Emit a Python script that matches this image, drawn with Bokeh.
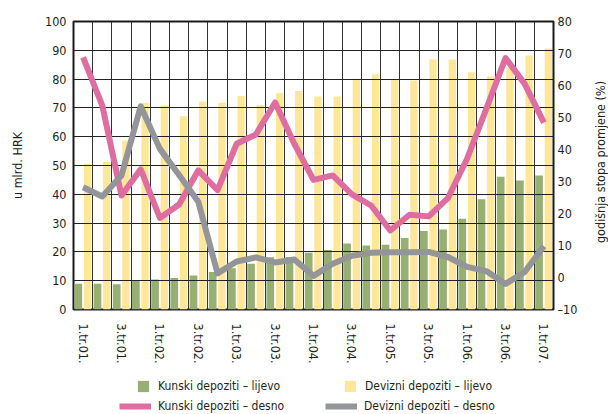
import math
import numpy as np
from bokeh.plotting import figure
from bokeh.layouts import column, row
from bokeh.models import Range1d, LinearAxis, FixedTicker, Legend, LegendItem, Label
from bokeh.embed import file_html
from bokeh.resources import INLINE

quarters = ["1.tr.01.", "2.tr.01.", "3.tr.01.", "4.tr.01.",
            "1.tr.02.", "2.tr.02.", "3.tr.02.", "4.tr.02.",
            "1.tr.03.", "2.tr.03.", "3.tr.03.", "4.tr.03.",
            "1.tr.04.", "2.tr.04.", "3.tr.04.", "4.tr.04.",
            "1.tr.05.", "2.tr.05.", "3.tr.05.", "4.tr.05.",
            "1.tr.06.", "2.tr.06.", "3.tr.06.", "4.tr.06.",
            "1.tr.07."]
# left axis, bn HRK
kunski_dep = [8.9, 8.9, 8.8, 10.1, 10.4, 10.9, 11.8, 13.0, 14.3, 15.9,
              18.1, 18.2, 19.7, 20.7, 22.9, 22.2, 22.5, 24.8, 27.3, 27.8,
              31.5, 38.3, 46.1, 44.8, 46.5]
devizni_dep = [50.6, 51.2, 58.7, 71.8, 70.8, 67.1, 72.2, 71.8, 74.1, 71.0,
               75.2, 75.9, 74.0, 74.0, 80.1, 81.6, 79.9, 79.5, 86.8, 86.8,
               82.4, 80.9, 84.0, 88.2, 90.6]
# right axis, annual rate of change (%)
kunski_rate = [68.8, 53.7, 25.6, 33.8, 18.6, 22.8, 33.5, 27.3, 41.8, 44.7,
               54.7, 41.8, 30.5, 31.9, 26.0, 22.5, 14.7, 19.6, 19.1, 24.8,
               37.1, 52.7, 68.6, 60.5, 48.4]
devizni_rate = [28.2, 25.3, 31.9, 53.5, 40.2, 32.0, 23.7, 1.3, 5.0, 6.3,
                4.7, 5.6, 0.5, 4.3, 6.8, 7.7, 7.9, 7.9, 8.0, 6.4,
                3.3, 2.0, -2.0, 1.7, 9.8]
left_ticks = list(range(0, 101, 10))
right_ticks = list(range(-10, 81, 10))
left_title = "u mlrd. HRK"
right_title = "godišnja stopa promjene (%)"
legend_labels = ["Kunski depoziti – lijevo", "Devizni depoziti – lijevo",
                 "Kunski depoziti – desno", "Devizni depoziti – desno"]

FONT = "DejaVu Sans Condensed"
GREEN = "#96b074"
YELLOW = "#ffe699"
PINK = "#de6ea0"
GRAY = "#939598"
TXT = "#231f20"

n = len(quarters)
idx = np.arange(n)
xc = idx + 0.5

BT, BB = 21, 50
p = figure(frame_width=480, frame_height=288, output_backend="svg",
           toolbar_location=None,
           x_range=Range1d(0, n), y_range=Range1d(0, 100),
           min_border_left=73, min_border_right=27, min_border_top=BT,
           min_border_bottom=BB)
p.extra_y_ranges = {"right": Range1d(-10, 80)}
p.background_fill_color = "white"
p.border_fill_color = "white"
p.outline_line_color = "#1a1a1a"
p.outline_line_width = 2

p.vbar(x=xc - 0.25, top=kunski_dep, width=0.4, fill_color=GREEN,
       line_color=None, level="image")
p.vbar(x=xc + 0.23, top=devizni_dep, width=0.38, fill_color=YELLOW,
       line_color=None, level="image")
p.line(xc, kunski_rate, y_range_name="right", line_color=PINK,
       line_width=6, line_join="round")
p.line(xc, devizni_rate, y_range_name="right", line_color=GRAY,
       line_width=6, line_join="round")

# axes
xax = p.xaxis[0]
xax.ticker = FixedTicker(ticks=[float(v) for v in xc[::2]])
xax.major_label_overrides = {float(xc[i]): quarters[i] for i in range(0, n, 2)}
xax.major_label_orientation = "vertical"
xax.major_label_standoff = 14

yax = p.yaxis[0]
yax.ticker = FixedTicker(ticks=left_ticks)
yax.axis_label = left_title
yax.major_label_standoff = 7
yax.axis_label_standoff = 17

rax = LinearAxis(y_range_name="right", ticker=FixedTicker(ticks=right_ticks))
rax.major_label_overrides = {-10: "–10"}
rax.major_label_standoff = 4
p.add_layout(rax, "right")

for ax in [xax, yax, rax]:
    ax.axis_line_color = None
    ax.major_tick_line_color = None
    ax.minor_tick_line_color = None
    ax.major_tick_out = 0
    ax.major_tick_in = 0
    ax.minor_tick_out = 0
    ax.minor_tick_in = 0
    ax.major_label_text_font = FONT
    ax.major_label_text_font_size = "12.5px"
    ax.major_label_text_color = TXT
    ax.axis_label_text_font = FONT
    ax.axis_label_text_font_size = "12.5px"
    ax.axis_label_text_font_style = "normal"
    ax.axis_label_text_color = TXT

p.ygrid.ticker = FixedTicker(ticks=left_ticks)
p.ygrid.grid_line_color = "#222222"
p.ygrid.grid_line_width = 1
p.xgrid.ticker = FixedTicker(ticks=[float(v) for v in range(n + 1)])
p.xgrid.grid_line_color = "#333333"
p.xgrid.grid_line_width = 1

# right-hand axis title (reads bottom to top)
TW = 28
tp = figure(width=TW, height=BT + 288 + BB, output_backend="svg",
            toolbar_location=None, x_range=Range1d(0, 1), y_range=Range1d(0, 1),
            x_axis_type=None, y_axis_type=None,
            min_border_left=0, min_border_right=0, min_border_top=BT,
            min_border_bottom=BB)
tp.outline_line_color = None
tp.background_fill_color = "white"
tp.border_fill_color = "white"
tp.add_layout(Label(x=0.72, y=0.5, text=right_title, angle=math.pi / 2,
                    text_align="center", text_baseline="middle",
                    text_font=FONT, text_font_size="12.5px", text_color=TXT))

# legend strip below the chart (its renderers lie outside its visible range)
LH = 406 - (BT + 288 + BB)
lp = figure(width=608, height=LH, output_backend="svg", toolbar_location=None,
            x_range=Range1d(0, n), y_range=Range1d(1000, 1001),
            x_axis_type=None, y_axis_type=None,
            min_border_left=73, min_border_right=0,
            min_border_top=0, min_border_bottom=0)
lp.outline_line_color = None
lp.background_fill_color = "white"
lp.border_fill_color = "white"
lg_g = lp.vbar(x=xc, top=kunski_dep, width=0.4, fill_color=GREEN, line_color=None)
lg_y = lp.vbar(x=xc, top=devizni_dep, width=0.4, fill_color=YELLOW, line_color=None)
lg_p = lp.line(x=xc, y=kunski_rate, line_color=PINK, line_width=6)
lg_gr = lp.line(x=xc, y=devizni_rate, line_color=GRAY, line_width=6)

common = dict(orientation="horizontal", spacing=0, padding=0, margin=0,
              border_line_color=None, background_fill_alpha=0,
              label_text_font=FONT, label_text_font_size="12px",
              label_text_color=TXT)
leg1 = Legend(items=[LegendItem(label=legend_labels[0], renderers=[lg_g]),
                     LegendItem(label=legend_labels[1], renderers=[lg_y])],
              location=(63, 20), glyph_width=14, glyph_height=14,
              label_height=14, label_width=185, label_standoff=8, **common)
leg2 = Legend(items=[LegendItem(label=legend_labels[2], renderers=[lg_p]),
                     LegendItem(label=legend_labels[3], renderers=[lg_gr])],
              location=(46, 0), glyph_width=32, glyph_height=14,
              label_height=14, label_width=167, label_standoff=7, **common)
lp.add_layout(leg1, "center")
lp.add_layout(leg2, "center")

layout = column(row(p, tp, spacing=0), lp, spacing=0)
open("out.html", "w").write(file_html(layout, INLINE))
